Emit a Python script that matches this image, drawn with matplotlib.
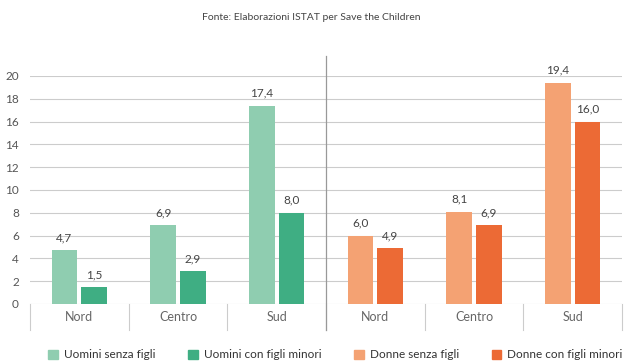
import numpy as np
import matplotlib.pyplot as plt

plt.rcParams['font.family'] = ['Lato', 'DejaVu Sans']

# data
regioni = ['Nord', 'Centro', 'Sud']
uomini_senza = [4.7, 6.9, 17.4]
uomini_con = [1.5, 2.9, 8.0]
donne_senza = [6.0, 8.1, 19.4]
donne_con = [4.9, 6.9, 16.0]
serie = ['Uomini senza figli', 'Uomini con figli minori',
         'Donne senza figli', 'Donne con figli minori']
colori = ['#8fcdb0', '#3fae83', '#f4a273', '#ec6a35']

fig = plt.figure(figsize=(6.27, 3.64), dpi=100)
ax = fig.add_axes([30/627, 60/364, 592/627, 228/364])

x_u = np.arange(3) + 0.5
x_d = np.arange(3) + 3.5
w = 0.26
off = 0.15

bars = []
bars.append(ax.bar(x_u - off, uomini_senza, w, color=colori[0], zorder=3))
bars.append(ax.bar(x_u + off, uomini_con, w, color=colori[1], zorder=3))
bars.append(ax.bar(x_d - off, donne_senza, w, color=colori[2], zorder=3))
bars.append(ax.bar(x_d + off, donne_con, w, color=colori[3], zorder=3))

for b in bars:
    for r in b:
        v = r.get_height()
        ax.annotate(('%.1f' % v).replace('.', ','), (r.get_x() + r.get_width()/2, v),
                    xytext=(0, 5), textcoords='offset points', ha='center', va='bottom',
                    fontsize=8.5, color='#444444')

ax.set_xlim(0, 6)
ax.set_ylim(0, 20)
ax.set_yticks(range(0, 21, 2))
ax.yaxis.grid(True, color='#cccccc', linewidth=0.8, zorder=0)
ax.tick_params(axis='y', length=0, pad=8, labelsize=8.5, labelcolor='#555555')
ax.set_xticks([])
for s in ax.spines.values():
    s.set_visible(False)

# category boxes under the axis
for i in range(7):
    ax.plot([i, i], [0, -0.114], transform=ax.get_xaxis_transform(), clip_on=False,
            color='#cccccc', linewidth=0.8)
for i, nome in enumerate(regioni * 2):
    ax.text(i + 0.5, -0.057, nome, transform=ax.get_xaxis_transform(),
            ha='center', va='center', fontsize=9, color='#666666')

# divider between men and women
ax.plot([3, 3], [-0.114, 1.088], transform=ax.get_xaxis_transform(), clip_on=False,
        color='#999999', linewidth=0.9, zorder=4)

fig.text(0.497, 0.952, 'Fonte: Elaborazioni ISTAT per Save the Children',
         ha='center', va='center', fontsize=7.5, color='#444444')

handles = [plt.Rectangle((0, 0), 1, 1, color=c) for c in colori]
fig.legend(handles, serie, loc='center', bbox_to_anchor=(0.535, 0.025), ncol=4,
           frameon=False, fontsize=8.5, handlelength=0.8, handleheight=0.8,
           columnspacing=2.8, handletextpad=0.5, labelcolor='#333333')

fig.savefig('out.png', dpi=100)
